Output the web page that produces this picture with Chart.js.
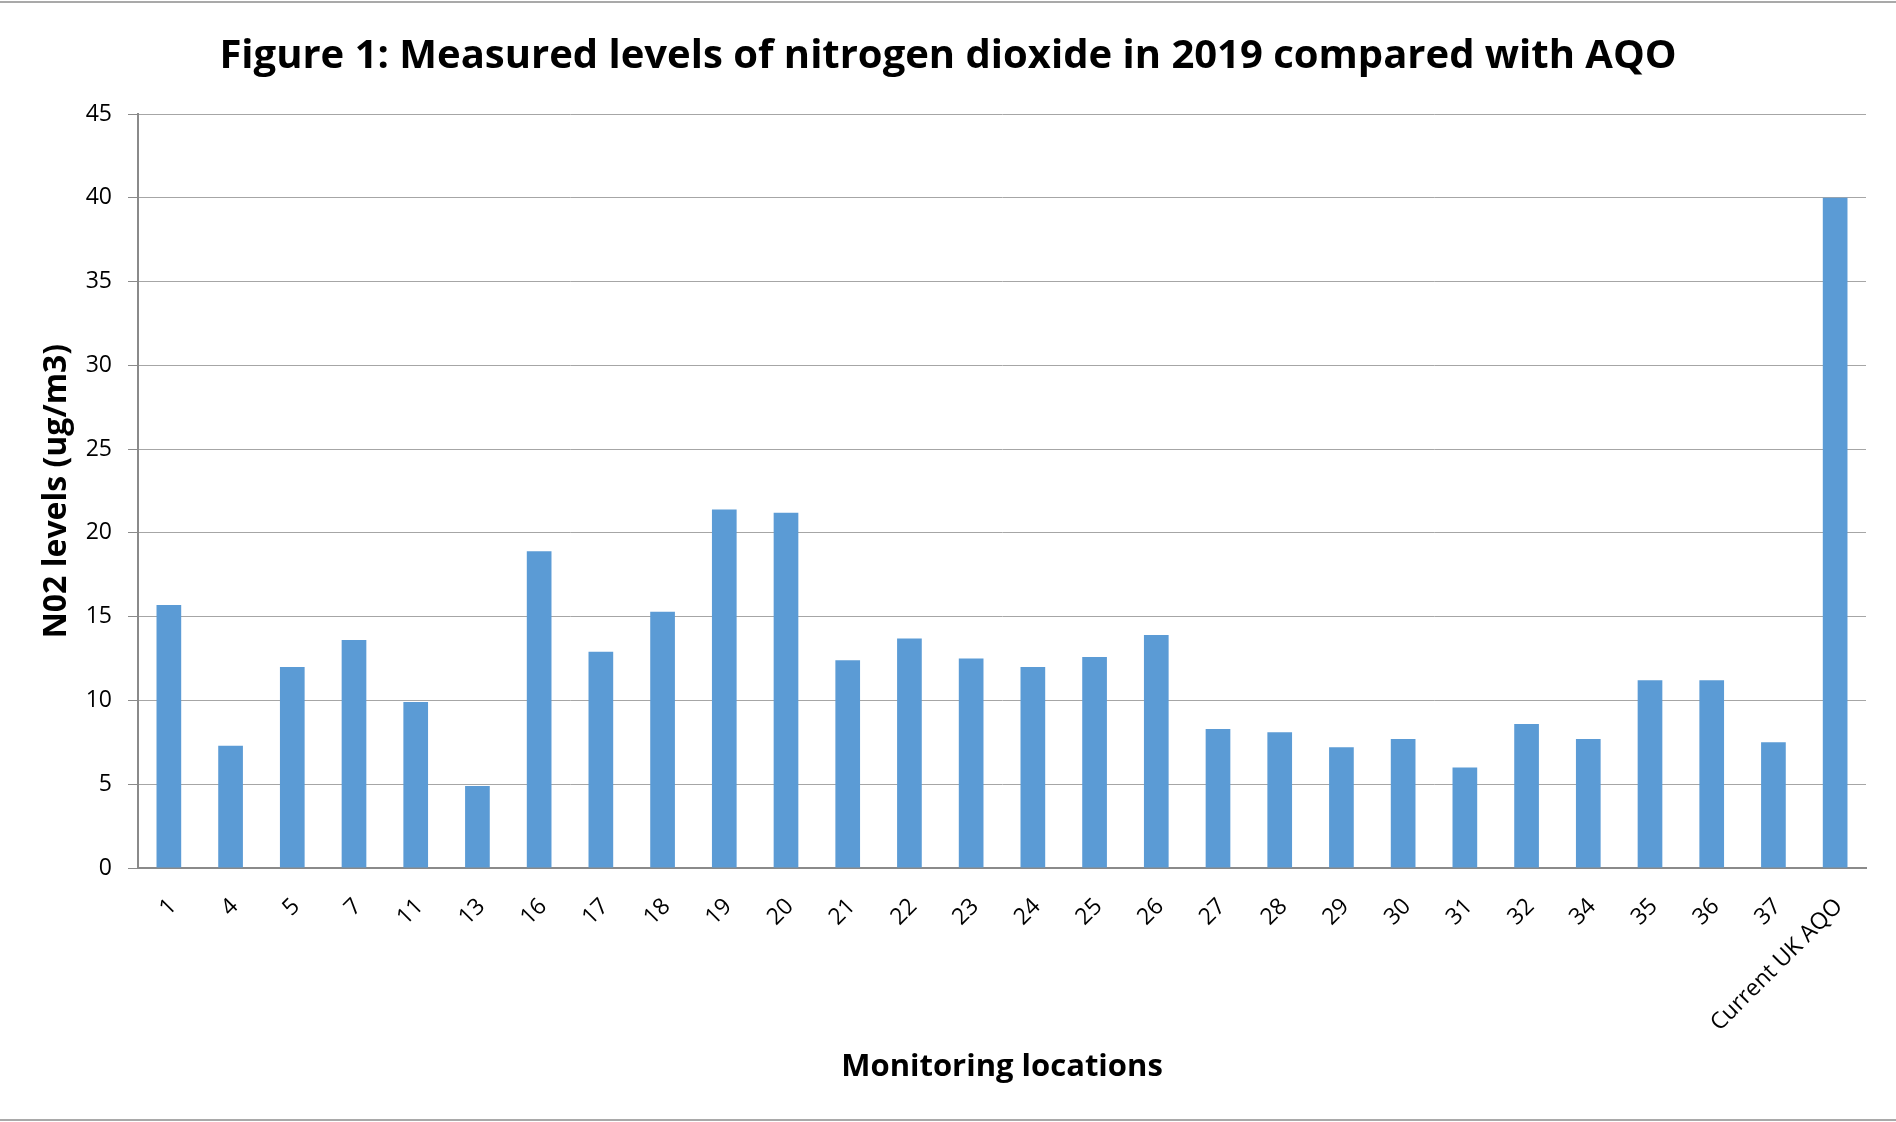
<!DOCTYPE html>
<html>
<head>
<meta charset="utf-8">
<script src="https://cdn.jsdelivr.net/npm/chart.js@4.4.1/dist/chart.umd.min.js"></script>
<style>
  html, body { margin: 0; padding: 0; background: #ffffff; }
  #wrap { position: relative; width: 1896px; height: 1122px; }
  #chart { display: block; }
  .rule { position: absolute; left: 0; width: 1896px; height: 2px; background: #a9a9a9; }
</style>
</head>
<body>
<div id="wrap">
  <canvas id="chart" width="1896" height="1122"></canvas>
  <div class="rule" style="top:1px"></div>
  <div class="rule" style="top:1119px"></div>
</div>
<script>
const chartTitle = 'Figure 1: Measured levels of nitrogen dioxide in 2019 compared with AQO';
const xAxisTitle = 'Monitoring locations';
const yAxisTitle = 'N02 levels (ug/m3)';

const categories = ['1', '4', '5', '7', '11', '13', '16', '17', '18', '19', '20', '21', '22', '23',
  '24', '25', '26', '27', '28', '29', '30', '31', '32', '34', '35', '36', '37', 'Current UK AQO'];

const no2Levels = [15.7, 7.3, 12.0, 13.6, 9.9, 4.9, 18.9, 12.9, 15.3, 21.4, 21.2, 12.4, 13.7, 12.5,
  12.0, 12.6, 13.9, 8.3, 8.1, 7.2, 7.7, 6.0, 8.6, 7.7, 11.2, 11.2, 7.5, 40.0];

const yMin = 0, yMax = 45, yStep = 5;

const ctx = document.getElementById('chart').getContext('2d');
new Chart(ctx, {
  type: 'bar',
  data: {
    labels: categories,
    datasets: [{
      label: yAxisTitle,
      data: no2Levels,
      backgroundColor: '#5b9bd5',
      borderWidth: 0,
      barPercentage: 0.4,
      categoryPercentage: 1.0,
      yAxisID: 'y'
    }]
  },
  options: {
    responsive: false,
    animation: false,
    devicePixelRatio: 1,
    layout: { padding: { top: 0, left: 0, right: 0, bottom: 0 } },
    plugins: {
      legend: { display: false },
      tooltip: { enabled: false },
      title: {
        display: true,
        text: chartTitle,
        color: '#000000',
        font: { family: 'Open Sans', weight: 'bold', size: 40, lineHeight: 1.2 },
        padding: { top: 33, bottom: 33 }
      }
    },
    scales: {
      x: {
        offset: true,
        grid: { display: false },
        border: { display: true, color: '#8a8a8a', width: 2 },
        ticks: {
          color: '#000000',
          font: { family: 'Open Sans', size: 23 },
          maxRotation: 45,
          minRotation: 45,
          autoSkip: false,
          padding: 17,
          labelOffset: 4
        },
        title: {
          display: true,
          text: xAxisTitle,
          color: '#000000',
          font: { family: 'Open Sans', weight: 'bold', size: 31, lineHeight: 1.2 },
          padding: { top: 0, bottom: 36 }
        },
        afterFit: (s) => { s.height = 254; }
      },
      y: {
        min: yMin,
        max: yMax,
        ticks: {
          stepSize: yStep,
          color: '#000000',
          font: { family: 'Open Sans', size: 23 },
          padding: 16
        },
        grid: { color: '#a6a6a6', lineWidth: 1, tickLength: 10, tickColor: '#8a8a8a' },
        border: { display: true, color: '#8a8a8a', width: 2 },
        title: {
          display: true,
          text: yAxisTitle,
          color: '#000000',
          font: { family: 'Open Sans', weight: 'bold', size: 32, lineHeight: 1.2 },
          padding: { top: 37.8, bottom: 0 }
        },
        afterFit: (s) => { s.width = 138; }
      },
      ySpacer: {
        position: 'right',
        display: true,
        min: yMin,
        max: yMax,
        ticks: { display: false },
        grid: { display: false, drawTicks: false },
        border: { display: false },
        afterFit: (s) => { s.width = 30; }
      }
    }
  }
});
</script>
</body>
</html>
